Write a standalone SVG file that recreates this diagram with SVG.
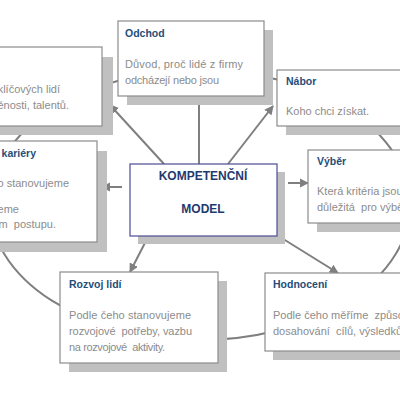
<svg xmlns="http://www.w3.org/2000/svg" width="400" height="400" viewBox="0 0 400 400">
<defs>
<marker id="ah" viewBox="0 0 10 10" refX="9" refY="5" markerWidth="4.6" markerHeight="4.6" orient="auto" markerUnits="strokeWidth">
<path d="M0,0 L10,5 L0,10 z" fill="#7f7f7f"/>
</marker>
<style>
.shadow{fill:#c0c0c0}
.box{fill:#ffffff;stroke:#8c8c8c;stroke-width:1.2}
.core{fill:#ffffff;stroke:#4b4b96;stroke-width:1.2}
.title{font-family:"Liberation Sans",Arial,sans-serif;font-size:10.5px;font-weight:bold;fill:#1f4e79}
.body{font-family:"Liberation Sans",Arial,sans-serif;font-size:11px;fill:#8c8c8c;white-space:pre}
.ctext{font-family:"Liberation Sans",Arial,sans-serif;font-size:12px;font-weight:bold;fill:#1f3a6e}
.conn{fill:none;stroke:#7f7f7f;stroke-width:2}
</style>
</defs>
<rect width="400" height="400" fill="#ffffff"/>
<g id="connectors">
<ellipse class="conn" cx="200" cy="205" rx="210" ry="135"/>
<line class="conn" x1="164" y1="164" x2="110" y2="105" marker-end="url(#ah)"/>
<line class="conn" x1="199" y1="164" x2="199" y2="97" marker-end="url(#ah)"/>
<line class="conn" x1="228" y1="164" x2="273" y2="106" marker-end="url(#ah)"/>
<line class="conn" x1="122" y1="187" x2="102" y2="187" marker-end="url(#ah)"/>
<line class="conn" x1="288" y1="183" x2="308" y2="183" marker-end="url(#ah)"/>
<line class="conn" x1="148" y1="237" x2="130" y2="272" marker-end="url(#ah)"/>
<line class="conn" x1="280" y1="237" x2="338" y2="273" marker-end="url(#ah)"/>
</g>
<g id="udrzeni">
<rect class="shadow" x="-40" y="57" width="153" height="78"/>
<rect class="box" x="-50" y="47" width="152" height="79"/>
<text class="body" x="60" y="93" text-anchor="end">klíčových lidí</text>
<text class="body" x="69" y="109" text-anchor="end">ěnosti, talentů.</text>
</g>
<g id="odchod">
<rect class="shadow" x="127" y="30" width="146" height="75"/>
<rect class="box" x="118" y="21" width="146" height="75"/>
<text class="title" x="125" y="36.5">Odchod</text>
<text class="body" x="125" y="68" textLength="118">Důvod, proč lidé z firmy</text>
<text class="body" x="125" y="84" textLength="94">odcházejí nebo jsou</text>
</g>
<g id="nabor">
<rect class="shadow" x="286" y="79" width="130" height="56"/>
<rect class="box" x="277" y="70" width="130" height="56"/>
<text class="title" x="286" y="85">Nábor</text>
<text class="body" x="286" y="115">Koho chci získat.</text>
</g>
<g id="kariera">
<rect class="shadow" x="-40" y="151" width="147" height="101"/>
<rect class="box" x="-50" y="141" width="147" height="101"/>
<text class="title" x="36" y="157" text-anchor="end">kariéry</text>
<text class="body" x="69" y="187" text-anchor="end">o stanovujeme</text>
<text class="body" x="19" y="213" text-anchor="end">eme</text>
<text class="body" x="56" y="228" text-anchor="end">m  postupu.</text>
</g>
<g id="model">
<rect class="shadow" x="138" y="172" width="147" height="72"/>
<rect class="core" x="130" y="164" width="147" height="72"/>
<text class="ctext" x="203" y="180" text-anchor="middle">KOMPETENČNÍ</text>
<text class="ctext" x="203" y="213" text-anchor="middle">MODEL</text>
</g>
<g id="vyber">
<rect class="shadow" x="317" y="159" width="110" height="73"/>
<rect class="box" x="308" y="150" width="110" height="73"/>
<text class="title" x="317" y="165">Výběr</text>
<text class="body" x="317" y="195">Která kritéria jsou</text>
<text class="body" x="317" y="211">důležitá  pro výběr</text>
</g>
<g id="rozvoj">
<rect class="shadow" x="69" y="281" width="158" height="91"/>
<rect class="box" x="60" y="272" width="158" height="91"/>
<text class="title" x="69" y="288">Rozvoj lidí</text>
<text class="body" x="69" y="319" textLength="122">Podle čeho stanovujeme</text>
<text class="body" x="69" y="335" textLength="123">rozvojové  potřeby, vazbu</text>
<text class="body" x="69" y="351" textLength="96">na rozvojové  aktivity.</text>
</g>
<g id="hodnoceni">
<rect class="shadow" x="273" y="282" width="150" height="78"/>
<rect class="box" x="265" y="273" width="150" height="78"/>
<text class="title" x="273" y="288">Hodnocení</text>
<text class="body" x="273" y="319">Podle čeho měříme  způsob</text>
<text class="body" x="273" y="335">dosahování  cílů, výsledků</text>
</g>
</svg>
